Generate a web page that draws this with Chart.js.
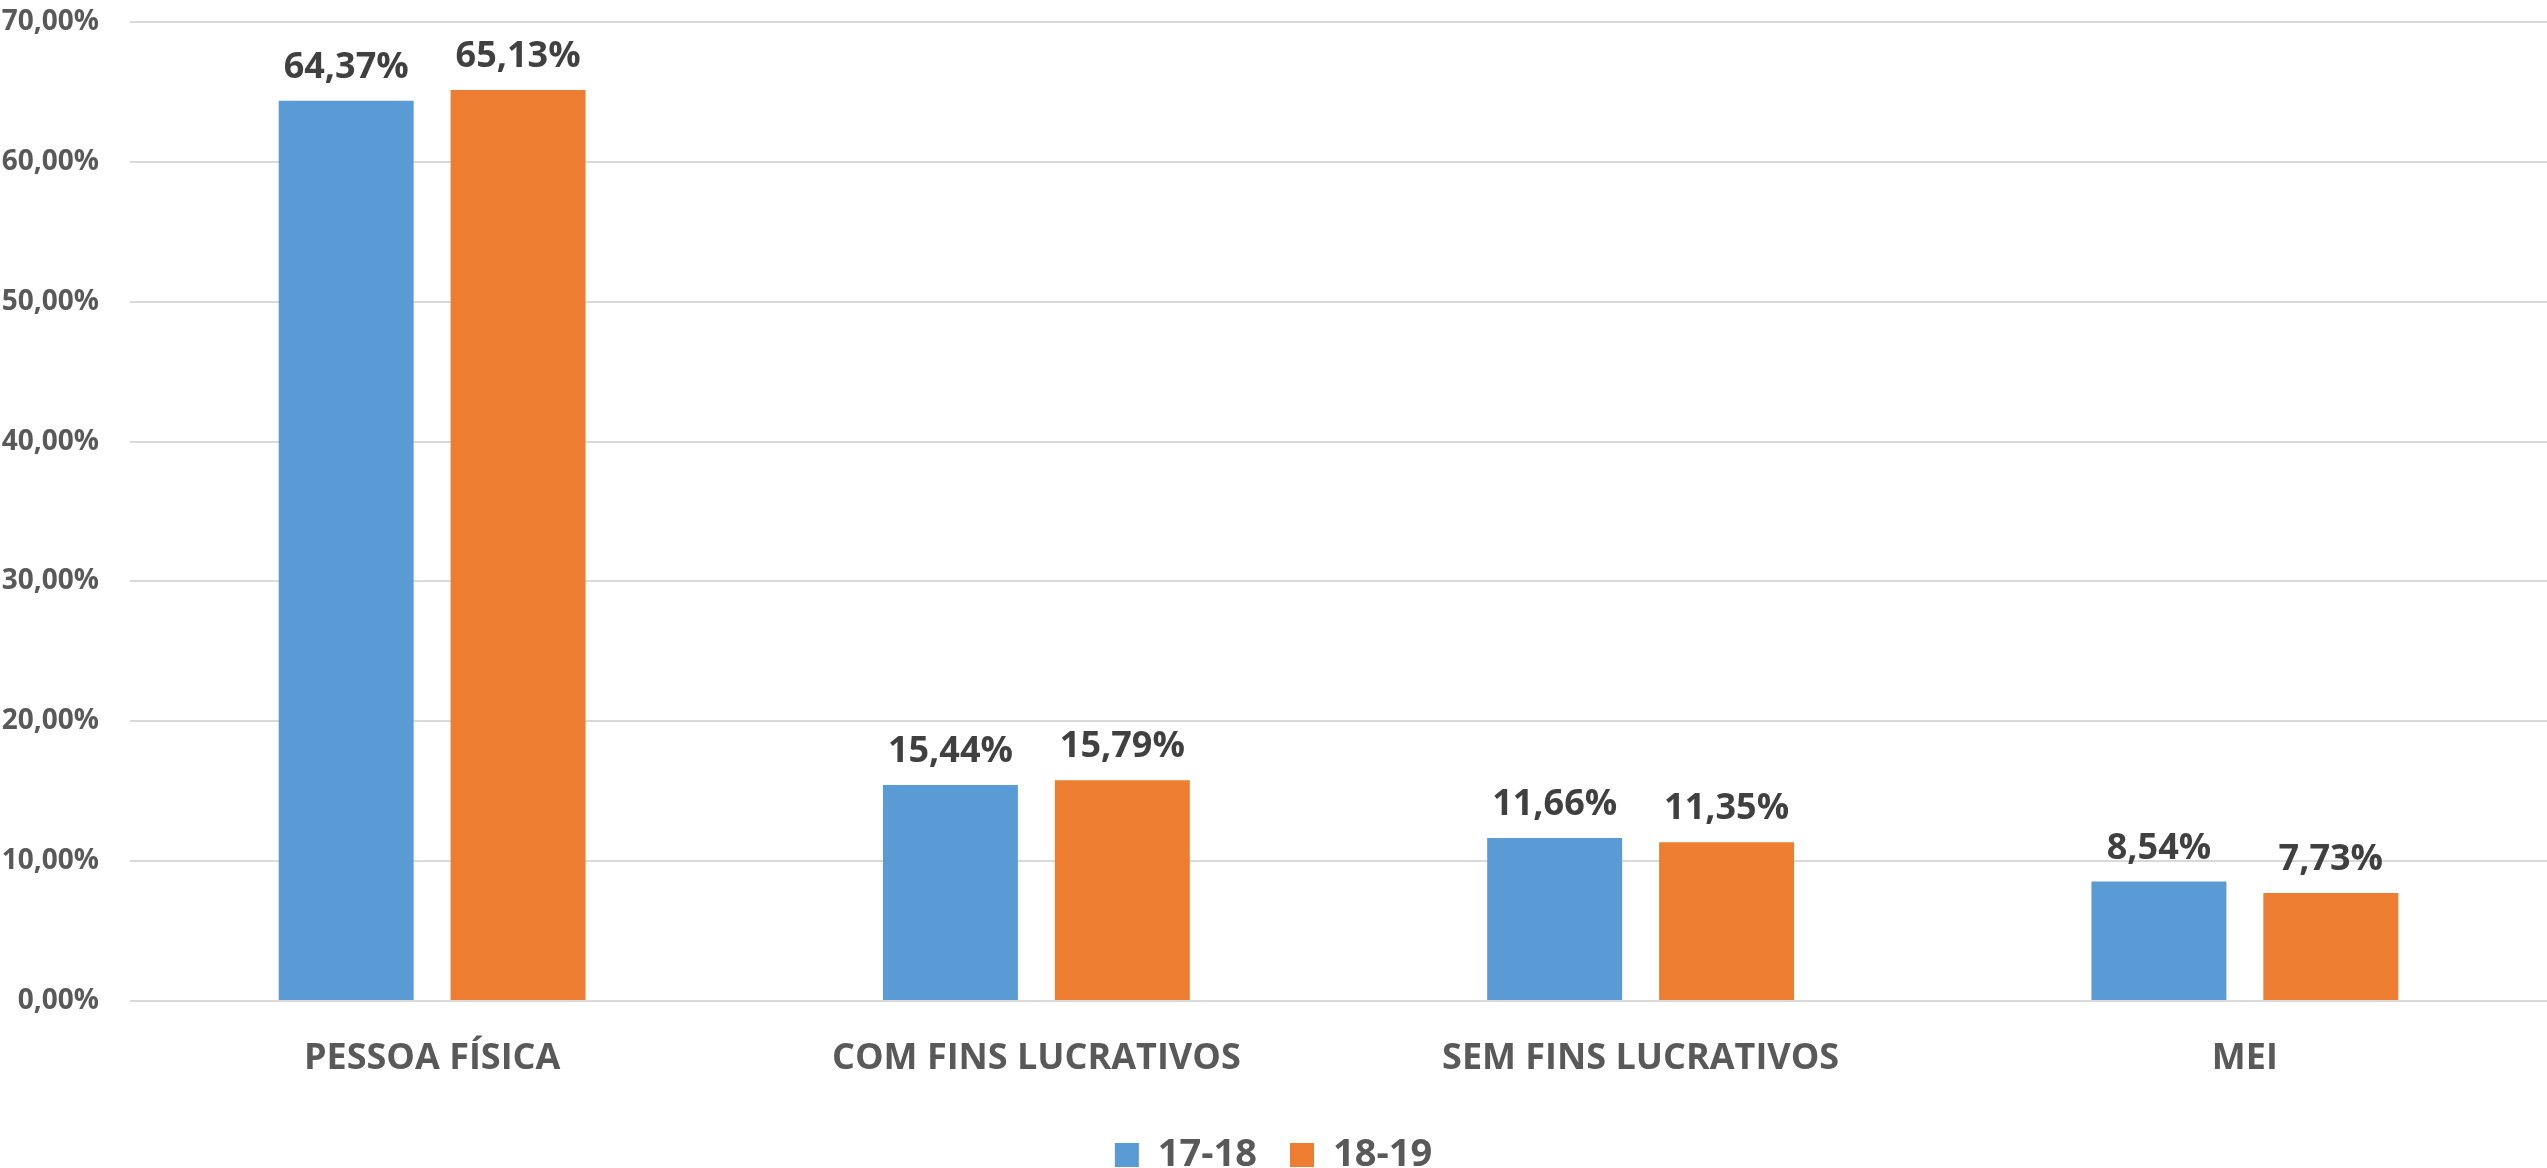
<!DOCTYPE html>
<html>
<head>
<meta charset="utf-8">
<script src="https://cdn.jsdelivr.net/npm/chart.js@4"></script>
<style>
  html, body { margin: 0; padding: 0; background: #fff; }
  #wrap { width: 2547px; height: 1168px; position: relative; }
</style>
</head>
<body>
<div id="wrap"><canvas id="chart"></canvas></div>
<script>
// --- Data ---
const categories = ["PESSOA FÍSICA", "COM FINS LUCRATIVOS", "SEM FINS LUCRATIVOS", "MEI"];
const seriesNames = ["17-18", "18-19"];
const values1718 = [64.37, 15.44, 11.66, 8.54];
const values1819 = [65.13, 15.79, 11.35, 7.73];
const yTicks = [0, 10, 20, 30, 40, 50, 60, 70];

const FONT = "'Open Sans', 'DejaVu Sans', sans-serif";
const pct = v => v.toFixed(2).replace(".", ",") + "%";

// --- Value labels above bars ---
const valueLabels = {
    id: "valueLabels",
    afterDatasetsDraw(chart) {
        const { ctx } = chart;
        ctx.save();
        ctx.font = `bold 36px ${FONT}`;
        ctx.fillStyle = "#404040";
        ctx.textAlign = "center";
        ctx.textBaseline = "alphabetic";
        chart.data.datasets.forEach((ds, i) => {
            chart.getDatasetMeta(i).data.forEach((bar, j) => {
                ctx.fillText(pct(ds.data[j]), bar.x, bar.y - 23);
            });
        });
        ctx.restore();
    }
};

new Chart(document.getElementById("chart"), {
    type: "bar",
    data: {
        labels: categories,
        datasets: [
            { label: seriesNames[0], data: values1718, backgroundColor: "#5B9BD5" },
            { label: seriesNames[1], data: values1819, backgroundColor: "#ED7D31" }
        ]
    },
    options: {
        responsive: true,
        maintainAspectRatio: false,
        animation: false,
        categoryPercentage: 0.569,
        barPercentage: 0.785,
        layout: { padding: { top: 22, left: 0, right: 0, bottom: -16 } },
        plugins: {
            legend: {
                display: true,
                position: "bottom",
                labels: {
                    boxWidth: 24,
                    boxHeight: 24,
                    padding: 33,
                    color: "#595959",
                    font: { family: FONT, size: 38, weight: "bold" }
                }
            },
            tooltip: { enabled: false }
        },
        scales: {
            x: {
                grid: { display: false, drawTicks: false },
                border: { display: false },
                ticks: {
                    color: "#595959",
                    padding: 36,
                    maxRotation: 0,
                    font: { family: FONT, size: 36, weight: "bold" }
                },
                afterFit(scale) { scale.height = 102; }
            },
            y: {
                min: 0,
                max: 70,
                afterBuildTicks(scale) { scale.ticks = yTicks.map(v => ({ value: v })); },
                grid: { color: "#D9D9D9", lineWidth: 2, drawTicks: false },
                border: { display: false },
                ticks: {
                    color: "#595959",
                    padding: 31,
                    callback: v => pct(v),
                    font: { family: FONT, size: 28, weight: "bold" }
                },
                afterFit(scale) {
                    scale.width = 130;
                    // tick padding should only push labels sideways, not shrink the plot
                    scale.paddingTop = 0;
                    scale.paddingBottom = 0;
                }
            }
        }
    },
    plugins: [valueLabels]
});
</script>
</body>
</html>
